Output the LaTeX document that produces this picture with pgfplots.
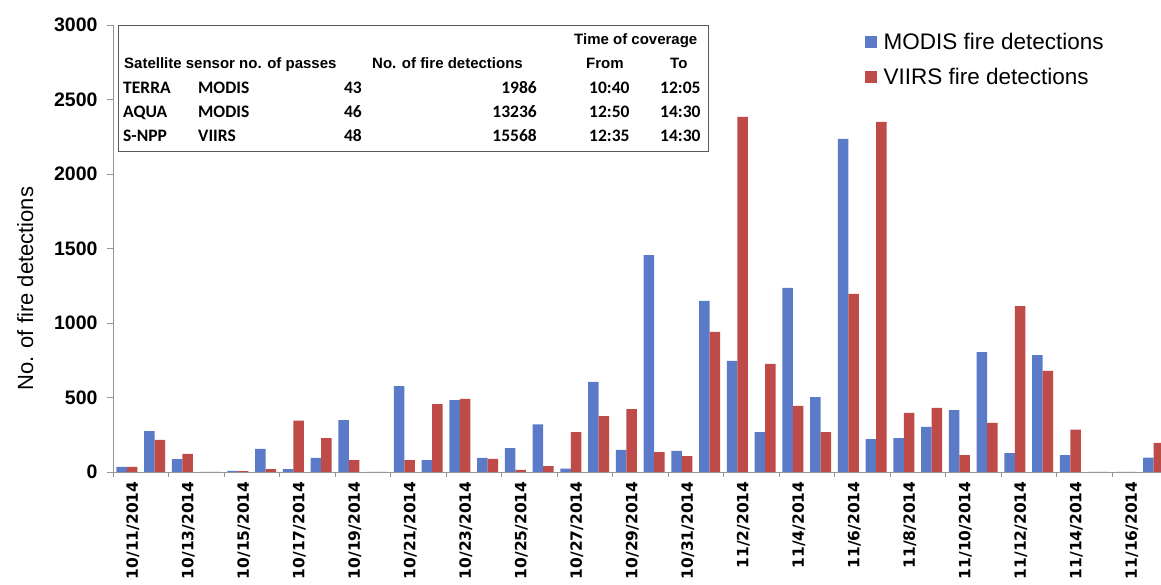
\documentclass[border=0pt]{standalone}
\usepackage{fontspec}
\setmainfont{Liberation Sans}
\newfontfamily\dejavu{DejaVu Sans}
\newfontfamily\carlito{Carlito}
\usepackage{pgfplots}
\usepackage{pgfplotstable}
\pgfplotsset{compat=1.18}
\definecolor{modis}{RGB}{91,123,200}
\definecolor{viirs}{RGB}{190,75,72}
\definecolor{axgray}{RGB}{150,150,150}

\pgfplotstableread{
idx modis viirs
0 35 35
1 275 215
2 87 121
3 0 0
4 8 6
5 155 20
6 20 345
7 95 228
8 348 80
9 0 0
10 577 80
11 80 456
12 483 490
13 95 88
14 160 15
15 320 40
16 22 268
17 605 375
18 148 422
19 1455 133
20 141 107
21 1148 940
22 745 2383
23 268 725
24 1235 443
25 503 268
26 2235 1195
27 221 2349
28 228 396
29 302 430
30 416 114
31 805 329
32 127 1114
33 785 678
34 114 285
35 0 0
36 0 0
37 97 195
}\datatable

\begin{document}
\begin{tikzpicture}[x=1pt,y=1pt]
\useasboundingbox (0,0) rectangle (1161,585);
\begin{axis}[
  at={(113pt,113pt)}, anchor=south west,
  scale only axis, width=1048pt, height=447pt,
  xmin=-0.5, xmax=37.27, ymin=0, ymax=3000,
  ybar=0pt, bar width=0.38,
  axis x line*=bottom, axis y line*=left,
  axis line style={axgray, line width=0.8pt},
  every outer x axis line/.append style={-},
  every outer y axis line/.append style={-},
  x axis line style={-}, y axis line style={-},
  tick align=outside,
  xtick={0,2,...,36},
  xticklabels={10/11/2014,10/13/2014,10/15/2014,10/17/2014,10/19/2014,10/21/2014,10/23/2014,10/25/2014,10/27/2014,10/29/2014,10/31/2014,11/2/2014,11/4/2014,11/6/2014,11/8/2014,11/10/2014,11/12/2014,11/14/2014,11/16/2014},
  minor xtick={-0.5,1.5,...,35.5},
  major x tick style={draw=none},
  minor x tick style={draw=axgray, line width=0.8pt},
  minor tick length=5pt,
  major tick length=6pt,
  ytick={0,500,...,3000},
  major y tick style={draw=axgray, line width=0.8pt},
  /pgf/number format/assume math mode=true,
  /pgf/number format/1000 sep={},
  x tick label style={rotate=90, anchor=east, yshift=-6pt, font=\dejavu\bfseries\fontsize{15.5}{15.5}\selectfont},
  y tick label style={font=\bfseries\fontsize{19.5}{19.5}\selectfont, xshift=-6pt},
  ylabel={No. of fire detections},
  every axis y label/.style={at={(axis description cs:-0.0763,0.41)}, rotate=90, anchor=base, font=\fontsize{22}{22}\selectfont},
  legend style={at={(0.717,0.987)}, anchor=north west, draw=none, fill=none,
    font=\fontsize{22.5}{22.5}\selectfont, row sep=13pt, inner sep=0pt},
  legend cell align=left,
  legend image code/.code={\draw[#1,/tikz/.cd,draw=none] (0pt,-6pt) rectangle (12pt,6pt); \path (17pt,0pt);},
]
\addplot[fill=modis, draw=none] table[x=idx, y=modis] {\datatable};
\addplot[fill=viirs, draw=none] table[x=idx, y=viirs] {\datatable};
\legend{MODIS fire detections, VIIRS fire detections}
\end{axis}
% inset table
\draw[fill=white, draw=black!65, line width=1pt] (118,559) rectangle (708,433);
\begin{scope}[every node/.style={inner sep=0pt, font=\bfseries\fontsize{15}{15}\selectfont}]
\node[anchor=base west] at (574,540) {Time of coverage};
\node[anchor=base west] at (124,516) {Satellite sensor no. of passes};
\node[anchor=base west] at (372,516) {No. of fire detections};
\node[anchor=base west] at (586,516) {From};
\node[anchor=base west] at (670,516) {To};
\end{scope}
\begin{scope}[every node/.style={inner sep=0pt, font=\carlito\bfseries\fontsize{17.5}{17.5}\selectfont}]
\node[anchor=base west] at (123,491.5) {TERRA};
\node[anchor=base west] at (198,491.5) {MODIS};
\node[anchor=base east] at (362,491.5) {43};
\node[anchor=base east] at (537,491.5) {1986};
\node[anchor=base west] at (589,491.5) {10:40};
\node[anchor=base west] at (660,491.5) {12:05};
\node[anchor=base west] at (123,467.5) {AQUA};
\node[anchor=base west] at (198,467.5) {MODIS};
\node[anchor=base east] at (362,467.5) {46};
\node[anchor=base east] at (537,467.5) {13236};
\node[anchor=base west] at (589,467.5) {12:50};
\node[anchor=base west] at (660,467.5) {14:30};
\node[anchor=base west] at (123,443.5) {S-NPP};
\node[anchor=base west] at (198,443.5) {VIIRS};
\node[anchor=base east] at (362,443.5) {48};
\node[anchor=base east] at (537,443.5) {15568};
\node[anchor=base west] at (589,443.5) {12:35};
\node[anchor=base west] at (660,443.5) {14:30};
\end{scope}
\end{tikzpicture}
\end{document}
